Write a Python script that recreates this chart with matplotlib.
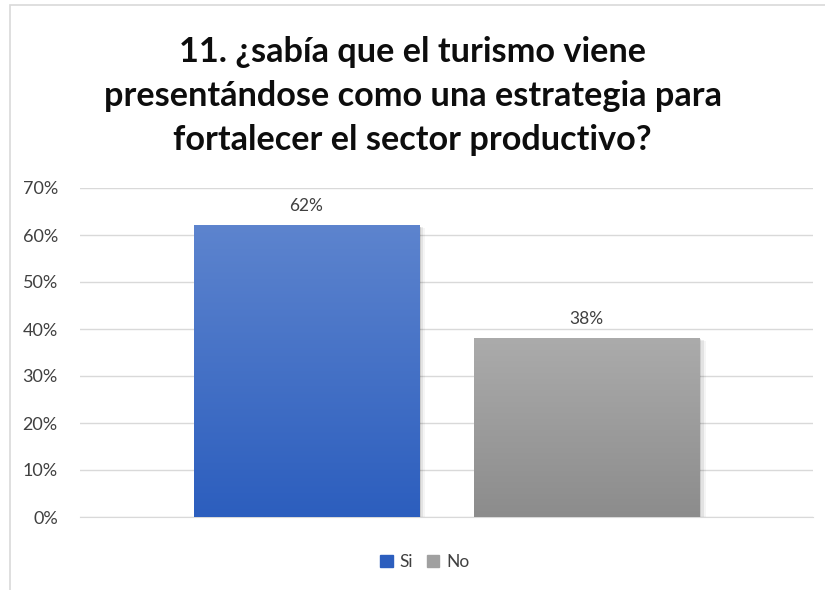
import numpy as np
import matplotlib.pyplot as plt
from matplotlib.patches import Rectangle

plt.rcParams["font.family"] = ["Lato", "DejaVu Sans"]

# data
series = ["Si", "No"]
values = [0.62, 0.38]
labels = ["62%", "38%"]
yticks = [0, 0.1, 0.2, 0.3, 0.4, 0.5, 0.6, 0.7]
top_colors = ["#5D84CE", "#ABABAB"]
bottom_colors = ["#2C5EBE", "#8C8C8C"]

fig = plt.figure(figsize=(8.25, 5.9), dpi=100)

# chart border
fig.patches.append(Rectangle((10 / 825, -0.1), 1.2, 1 - 5 / 590 + 0.1,
                             transform=fig.transFigure, fill=False,
                             edgecolor="#D9D9D9", linewidth=1.2))

ax = fig.add_axes([80 / 825, 1 - 517 / 590, 733 / 825, (517 - 188) / 590])

centers = [-0.1913, 0.1913]
width = 0.307


def hex2rgb(h):
    h = h.lstrip("#")
    return np.array([int(h[i:i + 2], 16) / 255 for i in (0, 2, 4)])


for i, v in enumerate(values):
    x0 = centers[i] - width / 2
    # soft shadow
    for k, a in enumerate([0.10, 0.07, 0.04]):
        off = 0.002 * (k + 1)
        ax.add_patch(Rectangle((x0 + off * 1.5, -0.002 * (k + 1)), width, v,
                               color="black", alpha=a, linewidth=0, zorder=2))
    c1 = hex2rgb(top_colors[i])
    c2 = hex2rgb(bottom_colors[i])
    t = np.linspace(0, 1, 256)[:, None]
    grad = (c1[None, :] * (1 - t) + c2[None, :] * t)[:, None, :]
    ax.imshow(grad, extent=[x0, x0 + width, 0, v], aspect="auto",
              origin="upper", zorder=3)
    ax.text(centers[i], v + 0.024, labels[i], ha="center", va="bottom",
            fontsize=12.5, color="#404040", zorder=4)

ax.set_xlim(-0.5, 0.5)
ax.set_ylim(0, 0.7)
ax.set_yticks(yticks)
ax.set_yticklabels([f"{int(round(y * 100))}%" for y in yticks],
                   fontsize=13, color="#404040")
ax.set_xticks([])
ax.grid(axis="y", color="#D9D9D9", linewidth=1, zorder=0)
ax.set_axisbelow(True)
for s in ax.spines.values():
    s.set_visible(False)
ax.spines["bottom"].set_visible(True)
ax.spines["bottom"].set_color("#D9D9D9")
ax.tick_params(axis="y", length=0, pad=16)

fig.text(0.5, 1 - 96 / 590,
         "11. ¿sabía que el turismo viene\npresentándose como una estrategia para\nfortalecer el sector productivo?",
         ha="center", va="center", fontsize=24.7, fontweight="bold",
         color="#0D0D0D", linespacing=1.45)

handles = [Rectangle((0, 0), 1, 1, color=bottom_colors[0]),
           Rectangle((0, 0), 1, 1, color="#A0A0A0")]
fig.legend(handles, series, loc="center", bbox_to_anchor=(0.515, 1 - 562 / 590),
           ncol=2, frameon=False, fontsize=12.5, handlelength=0.7,
           handleheight=0.7, handletextpad=0.4, columnspacing=0.8,
           labelcolor="#404040")

fig.savefig("out.png", dpi=100)
